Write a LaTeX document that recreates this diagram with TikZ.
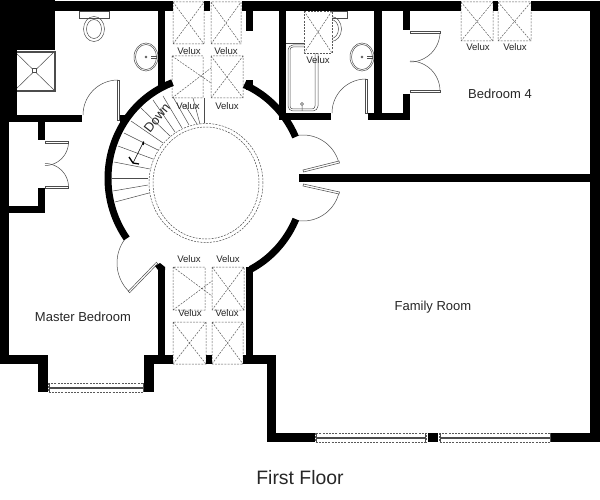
\documentclass[tikz,border=0pt]{standalone}
\usepackage{fontspec}
\setmainfont{Liberation Sans}
\tikzset{
  wall/.style={fill=black},
  wallarc/.style={draw=black,line width=7pt},
  thinline/.style={draw=black!70,line width=.5pt},
  leaf/.style={draw=black!70,line width=.5pt,fill=white},
  skylight/.style={draw=black!65,line width=.5pt,dash pattern=on 2pt off 1.2pt},
  veluxlabel/.style={font=\fontsize{9.6pt}{10pt}\selectfont,text=black!85,inner sep=0pt},
  roomlabel/.style={font=\fontsize{13pt}{14pt}\selectfont,text=black!85,inner sep=0pt}
}
\begin{document}
\begin{tikzpicture}[x=1pt,y=-1pt]
  \useasboundingbox (0,0) rectangle (600,500);
  % toilets and basins
  \draw[thinline] (79,11) rectangle (109,18);
  \draw[thinline] (94,29) ellipse (10.5pt and 12.5pt);
  \draw[thinline] (94,29) ellipse (7.5pt and 9.5pt);
  \draw[thinline] (317,11) rectangle (347,18);
  \draw[thinline] (331,29) ellipse (10.5pt and 12.5pt);
  \draw[thinline] (331,29) ellipse (7.5pt and 9.5pt);
  \foreach \bx in {146,362} {
    \draw[thinline] (\bx,57) ellipse (12pt and 14pt);
    \draw[thinline] (\bx,57) ellipse (10.5pt and 12.5pt);
    \draw[thinline] (\bx,57) circle (1pt);
    \draw[thinline] (\bx+5,56) -- (\bx+11,56) (\bx+5,58) -- (\bx+11,58);
  }
  % bath
  \draw[thinline] (286,43) -- (305,43);
  \draw[thinline,rounded corners=5pt] (318,43) -- (318,111) -- (288,111) -- (288,45) -- (305,45);
  \draw[thinline,rounded corners=3pt] (315,45) -- (315,109) -- (290,109) -- (290,47) -- (305,47);
  \draw[thinline] (302,104) circle (1.5pt) (302,106) -- (302,111);
  % shower
  \draw[thinline,fill=white] (14,51) rectangle (55,91);
  \draw[thinline] (15,52) rectangle (54,90);
  \draw[thinline] (14,51) -- (55,91) (14,91) -- (55,51);
  \draw[thinline,fill=white] (32.5,68.5) rectangle (36.5,72.5);
  % skylights
  \foreach \xa/\ya/\xb/\yb in {173/2/204/44,211/2/241/44,211/56/243/98,
    461/2/493/41,498/2/531/41,212/267/244/310,173/322/206/364,212/322/243/364} {
    \draw[skylight] (\xa,\ya) rectangle (\xb,\yb) (\xa,\ya) -- (\xb,\yb) (\xa,\yb) -- (\xb,\ya);
  }
  \draw[skylight,fill=white] (304,11) rectangle (332,53);
  \draw[skylight] (304,11) -- (332,53) (304,53) -- (332,11);
  \draw[skylight] (172,56) rectangle (203,98) (172,56) -- (211,83) (172,98) -- (211,68);
  \draw[skylight] (173,267) rectangle (205,310) (173,267) -- (212,296) (173,310) -- (212,281);
  % stairs
  \foreach \xa/\ya/\xb/\yb in {115/202/149/193,113/191/148/185,112/178/148/178,114/162/150/169,
    118/146/153/159,124/133/158/150,131/121/163/143,141/108/170/136,153/100/175/132,
    163/96/182/128,173/97/189/125,185/105/197/124,193/98/200/124,204/98/204/123} {
    \draw[thinline] (\xa,\ya) -- (\xb,\yb);
  }
  \draw[thinline,dash pattern=on 2pt off 1.2pt] (206,183) ellipse (57pt and 59.5pt);
  \draw[thinline,dash pattern=on 2pt off 1.2pt] (206,183) ellipse (53pt and 56pt);
  \draw[line width=.6pt] (143.5,142) -- (133,163);
  \draw[line width=1.3pt] (129,157) -- (133,163) -- (139,164);
  \draw[line width=1.4pt] (143.5,141.5) -- (143,145);
  % doors
  \foreach \hx/\hy/\r/\sa/\ea in {118/115/35/90/180,45/142/23.5/0/-90,45/187/23.5/0/90,
    366/113/34/90/180,410/32/30/0/-90,410/91/30/0/90,
    303/172/37/15.5/98,303/184/37/-14/-98,157/263/40/137/226} {
    \draw[thinline] plot[domain=\sa:\ea,samples=24] ({\hx+\r*cos(\x)},{\hy-\r*sin(\x)});
  }
  \draw[leaf] (117,80) rectangle (119,120);
  \draw[leaf] (45,141) rectangle (68.5,143);
  \draw[leaf] (45,186) rectangle (68.5,188);
  \draw[leaf] (365,79) rectangle (367,113);
  \draw[leaf] (410,31) rectangle (440,33);
  \draw[leaf] (410,90) rectangle (440,92);
  \draw[leaf] (303,170) -- (339,161) -- (339.5,163) -- (303.5,172) -- cycle;
  \draw[leaf] (303.5,184) -- (339.5,192) -- (339,194) -- (303,186) -- cycle;
  \draw[leaf] (156.3,262.3) -- (128.3,291.3) -- (129.7,292.7) -- (157.7,263.7) -- cycle;
  % windows
  \foreach \xa/\ya/\xb/\yb in {315/433/426/442,439/433/551/442,48/383/144/392} {
    \draw[skylight] (\xa,\ya) rectangle (\xb,\yb);
    \draw[thinline] (\xa+2,\ya+4) rectangle (\xb-2,\ya+5.5);
    \draw[thinline] (\xa+1,\ya) -- (\xa+1,\yb) (\xb-1,\ya) -- (\xb-1,\yb);
  }
  % walls
  \foreach \xa/\ya/\xb/\yb in {
    0/0/55/50,0/1/173/11,204/1/210/11,242/1/461/11,493/1/498/11,531/1/600/11,
    0/50/17/115,0/115/82/122,120/115/127/122,0/115/9/364,38/122/45/140,38/188/45/213,9/206/45/213,
    158/11/165/87,246/11/253/31,246/80/253/90,279/11/286/120,279/113/331/120,368/113/410/120,
    374/11/382/120,403/11/410/30,403/94/410/120,
    299/174/590/182,590/1/600/442,
    0/355/48/364,38/355/48/392,144/355/173/364,144/355/154/392,158/268/165/364,
    206/355/212/364,243/355/276/364,246/267/253/364,267/355/276/442,
    267/433/315/442,428/433/438/442,551/433/600/442} {
    \fill[wall] (\xa,\ya) rectangle (\xb,\yb);
  }
  \draw[wallarc] plot[domain=110:216,samples=50] ({206+98*cos(\x)},{178.5-102*sin(\x)});
  \draw[wallarc] plot[domain=24:67,samples=30] ({206+98*cos(\x)},{178.5-102*sin(\x)});
  \draw[wallarc] plot[domain=-23.5:-63,samples=30] ({206+98*cos(\x)},{178.5-102*sin(\x)});
  \fill[wall] (155,266) -- (160,263) -- (165,267) -- (165,270) -- (158,270) -- cycle;
  % labels
  \foreach \lx/\ly [count=\i] in {189/51,226/51,188/106,227/106,318/60,478/47,515/47,
    189/259,228/259,190/313,227/313} {
    \node[veluxlabel] (velux\i) at (\lx,\ly) {Velux};
  }
  \node[roomlabel] (bedroomfour) at (500,94) {Bedroom 4};
  \node[roomlabel] (familyroom) at (433,307) {Family Room};
  \node[roomlabel] (masterbedroom) at (83,317) {Master Bedroom};
  \node[roomlabel,rotate=52] (down) at (157,118) {Down};
  \node[font=\fontsize{19.4pt}{20pt}\selectfont,text=black!85,inner sep=0pt] (firstfloor) at (300,478) {First Floor};
\end{tikzpicture}
\end{document}
